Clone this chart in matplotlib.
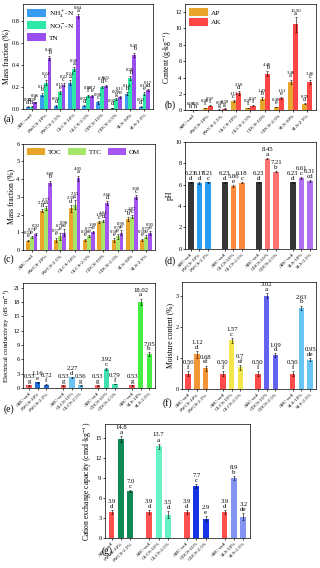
import numpy as np
import matplotlib.pyplot as plt

plt.rcParams['font.family'] = ['Liberation Serif', 'DejaVu Serif']
plt.rcParams['mathtext.fontset'] = 'stix'
plt.rcParams['axes.linewidth'] = 0.5
plt.rcParams['xtick.major.width'] = 0.5
plt.rcParams['ytick.major.width'] = 0.5
plt.rcParams['xtick.major.size'] = 1.5
plt.rcParams['ytick.major.size'] = 1.5

# ---- data ----
cats = ['ABC-soil', 'FWCS-10%', 'FWCS-2.5%', 'GLCS-10%', 'GLCS-2.5%',
        'CDCS-10%', 'CDCS-2.5%', 'SLS-10%', 'SLS-2.5%']

# (a) nitrogen
nh4 = [0.02, 0.13, 0.03, 0.24, 0.03, 0.06, 0.01, 0.14, 0.02]
nh4_err = [0.005, 0.012, 0.008, 0.02, 0.006, 0.01, 0.004, 0.015, 0.005]
nh4_let = ['d', 'b', 'd', 'a', 'd', 'c', 'd', 'b', 'd']
no3 = [0.02, 0.24, 0.15, 0.36, 0.12, 0.20, 0.09, 0.28, 0.14]
no3_err = [0.005, 0.02, 0.012, 0.02, 0.01, 0.012, 0.008, 0.02, 0.01]
no3_let = ['h', 'c', 'e', 'a', 'f', 'd', 'g', 'b', 'e']
tn = [0.06, 0.46, 0.22, 0.84, 0.12, 0.21, 0.11, 0.49, 0.17]
tn_err = [0.005, 0.02, 0.015, 0.02, 0.01, 0.012, 0.01, 0.02, 0.01]
tn_let = ['f', 'b', 'c', 'a', 'e', 'c', 'e', 'b', 'd']

# (b) AP / AK
ap = [0.00, 0.28, 0.08, 1.12, 0.27, 1.43, 0.40, 3.48, 0.79]
ap_err = [0.01, 0.03, 0.02, 0.1, 0.03, 0.15, 0.04, 0.25, 0.06]
ap_let = ['h', 'f', 'g', 'c', 'f', 'b', 'e', 'a', 'd']
ak = [0.01, 0.57, 0.20, 2.10, 0.57, 4.48, 1.51, 10.50, 3.46]
ak_err = [0.01, 0.05, 0.03, 0.2, 0.05, 0.3, 0.12, 0.9, 0.2]
ak_let = ['h', 'f', 'g', 'd', 'f', 'b', 'e', 'a', 'c']

# (c) carbon
toc = [0.53, 2.21, 0.57, 2.35, 0.58, 1.56, 0.56, 1.74, 0.56]
toc_err = [0.05, 0.08, 0.12, 0.2, 0.06, 0.06, 0.1, 0.1, 0.08]
toc_let = ['e', 'd', 'e', 'd', 'e', 'c', 'e', 'b', 'e']
ttc = [0.73, 2.37, 0.78, 2.55, 0.77, 1.64, 0.76, 1.87, 0.75]
ttc_err = [0.05, 0.1, 0.2, 0.25, 0.06, 0.06, 0.12, 0.08, 0.1]
ttc_let = ['e', 'a', 'e', 'a', 'e', 'd', 'e', 'c', 'e']
om = [0.92, 3.80, 0.98, 4.05, 1.00, 2.66, 0.96, 3.00, 0.95]
om_err = [0.05, 0.12, 0.18, 0.15, 0.05, 0.1, 0.14, 0.1, 0.12]
om_let = ['e', 'b', 'e', 'a', 'e', 'd', 'e', 'c', 'e']

# (d)-(g) grouped with control
grp_labels = [['ABC-soil', 'FWCS-10%', 'FWCS-2.5%'],
              ['ABC-soil', 'GLCS-10%', 'GLCS-2.5%'],
              ['ABC-soil', 'CDCS-10%', 'CDCS-2.5%'],
              ['ABC-soil', 'SLS-10%', 'SLS-2.5%']]

ph = [6.23, 6.17, 6.21, 6.23, 5.86, 6.18, 6.23, 8.45, 7.21, 6.23, 6.61, 6.31]
ph_err = [0.05, 0.06, 0.05, 0.05, 0.12, 0.06, 0.05, 0.08, 0.06, 0.05, 0.08, 0.1]
ph_let = ['d', 'd', 'c', 'd', 'e', 'c', 'd', 'a', 'b', 'd', 'c', 'cd']

ec = [0.53, 1.16, 0.72, 0.53, 2.27, 0.56, 0.53, 3.92, 0.79, 0.53, 18.02, 7.05]
ec_err = [0.05, 0.08, 0.06, 0.05, 0.1, 0.05, 0.05, 0.2, 0.05, 0.05, 0.7, 0.4]
ec_let = ['g', 'e', 'f', 'g', 'd', 'g', 'g', 'c', 'f', 'g', 'a', 'b']
ec_vals_txt = ['0.53', '1.16', '0.72', '0.53', '2.27', '0.56', '0.53', '3.92', '0.79', '0.53', '18.02', '7.05']

mc = [0.50, 1.12, 0.68, 0.50, 1.57, 0.70, 0.50, 3.02, 1.09, 0.50, 2.63, 0.95]
mc_err = [0.08, 0.12, 0.08, 0.08, 0.07, 0.08, 0.08, 0.08, 0.06, 0.08, 0.07, 0.05]
mc_let = ['f', 'd', 'ef', 'f', 'c', 'ef', 'f', 'a', 'd', 'f', 'b', 'de']
mc_vals_txt = ['0.50', '1.12', '0.68', '0.50', '1.57', '0.7', '0.50', '3.02', '1.09', '0.50', '2.63', '0.95']

cec = [3.9, 14.8, 7.0, 3.9, 13.7, 3.5, 3.9, 7.7, 2.9, 3.9, 8.9, 3.2]
cec_err = [0.3, 0.4, 0.2, 0.3, 0.4, 0.5, 0.3, 0.3, 0.4, 0.3, 0.3, 0.5]
cec_let = ['d', 'a', 'c', 'd', 'a', 'd', 'd', 'c', 'e', 'd', 'b', 'de']
cec_vals_txt = ['3.9', '14.8', '7.0', '3.9', '13.7', '3.5', '3.9', '7.7', '2.9', '3.9', '8.9', '3.2']

fig = plt.figure(figsize=(3.2, 5.68), dpi=100)

VFS = 3.4   # value label size
LFS = 4.6   # letter size
TFS = 4.6   # tick label size


def annotate(ax, x, v, e, txt, let, off):
    ax.text(x, v + e + off, let, ha='center', va='bottom', fontsize=LFS)
    ax.text(x, v + e + off * 3.4, txt, ha='center', va='bottom', fontsize=VFS)


def grouped(ax, series, errs, lets, colors, names, w, ylim, yticks, ylabel, fmt='%.2f'):
    x = np.arange(len(cats))
    n = len(series)
    off = ylim * 0.012
    for i in range(n):
        xs = x + (i - (n - 1) / 2) * w
        ax.bar(xs, series[i], w, color=colors[i], edgecolor='none', label=names[i])
        ax.errorbar(xs, series[i], yerr=errs[i], fmt='none', ecolor='k',
                    elinewidth=0.4, capsize=0.8, capthick=0.4)
        for xx, v, e, l in zip(xs, series[i], errs[i], lets[i]):
            annotate(ax, xx, v, e, fmt % v, l, off)
    ax.set_xlim(-0.6, len(cats) - 0.4)
    ax.set_ylim(0, ylim)
    ax.set_yticks(yticks)
    ax.set_xticks(x)
    ax.set_xticklabels(cats, rotation=45, ha='right', rotation_mode='anchor', fontsize=3.8)
    ax.tick_params(axis='y', labelsize=TFS, pad=1)
    ax.tick_params(axis='x', pad=1)
    ax.set_ylabel(ylabel, fontsize=5.5, labelpad=1)


def control(ax, vals, errs, lets, txts, colors, ylim, yticks, ylabel, yfs=5.5):
    pos = []
    labs = []
    for g in range(4):
        for k in range(3):
            pos.append(g * 4 + k)
            labs.append(grp_labels[g][k])
    pos = np.array(pos)
    ax.bar(pos, vals, 0.62, color=colors, edgecolor='none')
    ax.errorbar(pos, vals, yerr=errs, fmt='none', ecolor='k',
                elinewidth=0.4, capsize=0.8, capthick=0.4)
    off = ylim * 0.01
    for xx, v, e, l, t in zip(pos, vals, errs, lets, txts):
        ax.text(xx, v + e + off, l, ha='center', va='bottom', fontsize=LFS + 0.4)
        ax.text(xx, v + e + off * 5.5, t, ha='center', va='bottom', fontsize=LFS + 0.2)
    ax.set_xlim(-0.7, 14.7)
    ax.set_ylim(0, ylim)
    ax.set_yticks(yticks)
    ax.set_xticks(pos)
    ax.set_xticklabels(labs, rotation=45, ha='right', rotation_mode='anchor', fontsize=3.6)
    ax.tick_params(axis='y', labelsize=TFS, pad=1)
    ax.tick_params(axis='x', pad=1)
    ax.set_ylabel(ylabel, fontsize=yfs, labelpad=1)


# (a)
ax = fig.add_axes([0.072, 0.808, 0.406, 0.185])
grouped(ax, [nh4, no3, tn], [nh4_err, no3_err, tn_err], [nh4_let, no3_let, tn_let],
        ['#3a9cf0', '#2ee8a8', '#9a4ef0'],
        ['NH$_4^+$-N', 'NO$_3^-$-N', 'TN'], 0.27, 0.95, [0.0, 0.2, 0.4, 0.6, 0.8],
        'Mass fraction (%)')
ax.set_yticklabels(['0.0', '0.2', '0.4', '0.6', '0.8'])
ax.legend(loc='upper left', fontsize=5.2, frameon=False, handlelength=2.6,
          handleheight=1.3, borderaxespad=0.2, labelspacing=0.25, handletextpad=0.4)

# (b)
ax = fig.add_axes([0.578, 0.806, 0.409, 0.187])
grouped(ax, [ap, ak], [ap_err, ak_err], [ap_let, ak_let],
        ['#e8a62c', '#ff4646'], ['AP', 'AK'], 0.36, 13, [0, 2, 4, 6, 8, 10, 12],
        'Content (g·kg$^{-1}$)')
ax.legend(loc='upper left', fontsize=5.2, frameon=False, handlelength=2.6,
          handleheight=1.3, borderaxespad=0.2, labelspacing=0.25, handletextpad=0.4)

# (c)
ax = fig.add_axes([0.072, 0.560, 0.412, 0.187])
grouped(ax, [toc, ttc, om], [toc_err, ttc_err, om_err], [toc_let, ttc_let, om_let],
        ['#e8a52a', '#a6e66a', '#a455f2'], ['TOC', 'TTC', 'OM'], 0.27, 6,
        [0, 1, 2, 3, 4, 5, 6], 'Mass fraction (%)')
ax.legend(loc='upper left', ncol=3, fontsize=5.0, frameon=False, handlelength=2.6,
          handleheight=1.2, borderaxespad=0.2, columnspacing=0.9, handletextpad=0.4)

# (d)
ax = fig.add_axes([0.578, 0.562, 0.409, 0.188])
control(ax, ph, ph_err, ph_let, ['%.2f' % v for v in ph],
        ['#363636', '#2a9cf2', '#2a9cf2', '#363636', '#ff8a3c', '#ff8a3c',
         '#363636', '#ff7272', '#ff7272', '#363636', '#b070f2', '#b070f2'],
        10, [0, 2, 4, 6, 8, 10], 'pH')

# (e)
ax = fig.add_axes([0.072, 0.317, 0.413, 0.185])
control(ax, ec, ec_err, ec_let, ec_vals_txt,
        ['#ff5a5a', '#1e6ed8', '#1e6ed8', '#ff5a5a', '#6cc2f2', '#6cc2f2',
         '#ff5a5a', '#3fe0b0', '#3fe0b0', '#ff5a5a', '#44ee44', '#44ee44'],
        22, [0, 3, 6, 9, 12, 15, 18, 21], 'Electrical conductivity  (dS·m$^{-1}$)',
        yfs=5.0)

# (f)
ax = fig.add_axes([0.569, 0.315, 0.419, 0.188])
control(ax, mc, mc_err, mc_let, mc_vals_txt,
        ['#ff4a4a', '#f39638', '#f39638', '#ff4a4a', '#f2e64a', '#f2e64a',
         '#ff4a4a', '#6464f2', '#6464f2', '#ff4a4a', '#68c4f2', '#68c4f2'],
        3.45, [0, 1, 2, 3], 'Moisture content (%)')

# (g)
ax = fig.add_axes([0.328, 0.053, 0.453, 0.2])
control(ax, cec, cec_err, cec_let, cec_vals_txt,
        ['#ff5050', '#108a55', '#108a55', '#ff5050', '#66f2c6', '#66f2c6',
         '#ff5050', '#1434e6', '#1434e6', '#ff5050', '#8394f2', '#8394f2'],
        17, [0, 3, 6, 9, 12, 15], 'Cation exchange capacity (cmol·kg$^{-1}$)')

for lab, xx, yy in [('(a)', 0.012, 0.785), ('(b)', 0.515, 0.81), ('(c)', 0.012, 0.54),
                    ('(d)', 0.515, 0.535), ('(e)', 0.012, 0.275), ('(f)', 0.508, 0.285),
                    ('(g)', 0.318, 0.025)]:
    fig.text(xx, yy, lab, fontsize=7)

fig.savefig('out.png', dpi=100)
